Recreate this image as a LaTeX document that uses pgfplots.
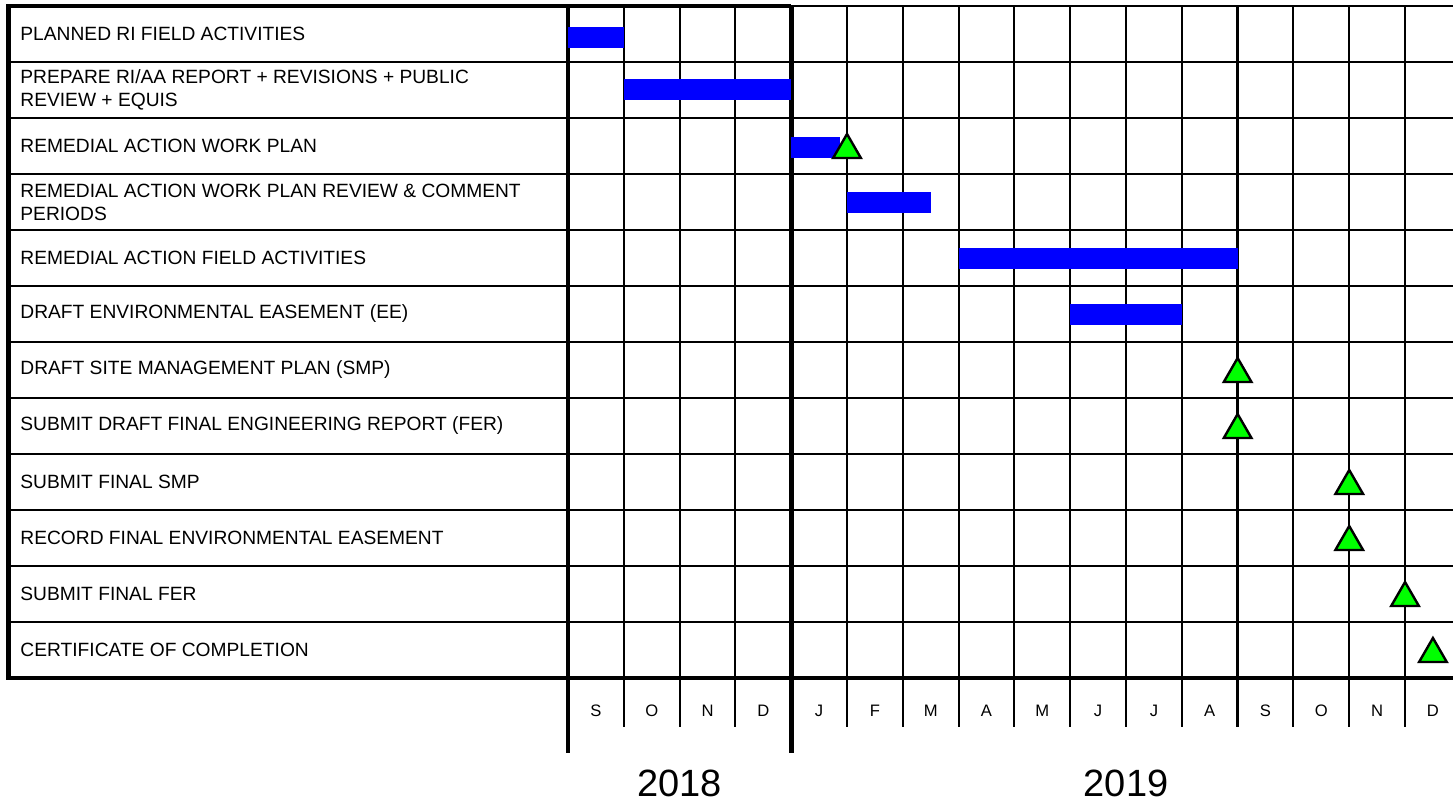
\documentclass[border=0pt]{standalone}
\usepackage{pgfplots}
\pgfplotsset{compat=1.18}
\usepackage{pgfplotstable}
\usepackage{fontspec}
\setmainfont{Liberation Sans}
\definecolor{barblue}{RGB}{0,0,255}
\definecolor{msgreen}{RGB}{0,255,0}

% task bars: start / end (months from Sep 2018), row
\pgfplotstableread{
x y
0 1.06
1 1.06
nan nan
1 2
4 2
nan nan
4 3.03
4.87 3.03
nan nan
5 4
6.5 4
nan nan
7 5
12 5
nan nan
9 6
11 6
}\bars

% milestones
\pgfplotstableread{
x y
5 3
12 7
12 8
14 9
14 10
15 11
15.5 12
}\miles

\begin{document}
\begin{tikzpicture}
\begin{axis}[name=ax,
  width=726.5pt, height=402pt, scale only axis,
  xmin=-10.179, xmax=15.860, ymin=0.393, ymax=14.75,
  y dir=reverse, axis lines=none, xtick=\empty, ytick=\empty,
  clip=false, unbounded coords=jump]
% row lines
\pgfplotsinvokeforeach{1.5,2.5,3.5,4.5,5.5,6.5,7.5,8.5,9.5,10.5,11.5}{
  \draw[line width=1pt] (axis cs:-10.027,#1) -- (axis cs:15.86,#1);
}
% thin month lines
\pgfplotsinvokeforeach{1,2,3,5,6,7,8,9,10,11,13,14}{
  \draw[line width=1pt] (axis cs:#1,0.5) -- (axis cs:#1,13.375);
}
\pgfplotsinvokeforeach{12,15}{
  \draw[line width=1.2pt] (axis cs:#1,0.5) -- (axis cs:#1,13.375);
}
\draw[line width=1pt] (axis cs:4,0.5) -- (axis cs:15.86,0.5);
% thick lines
\draw[line width=2.4pt] (axis cs:0,0.5) -- (axis cs:0,13.84);
\draw[line width=2.4pt] (axis cs:4,0.5) -- (axis cs:4,13.84);
\draw[line width=2.4pt, line join=miter] (axis cs:4,0.5) -- (axis cs:-10.027,0.5) -- (axis cs:-10.027,12.5) -- (axis cs:15.86,12.5);
% bars
\addplot[barblue, line width=10.5pt, line cap=butt, mark=none] table[x=x,y=y] {\bars};
% milestones
\addplot[only marks, mark=triangle*, mark size=8pt,
  mark options={fill=msgreen, draw=black, line width=1.2pt, yshift=-2pt}] table[x=x,y=y] {\miles};
% task labels
\pgfplotsforeachungrouped \k/\t in {
  1/{PLANNED RI FIELD ACTIVITIES},
  2/{PREPARE RI/AA REPORT + REVISIONS + PUBLIC\\REVIEW + EQUIS},
  3/{REMEDIAL ACTION WORK PLAN},
  4/{REMEDIAL ACTION WORK PLAN REVIEW \& COMMENT\\PERIODS},
  5/{REMEDIAL ACTION FIELD ACTIVITIES},
  6/{DRAFT ENVIRONMENTAL EASEMENT (EE)},
  7/{DRAFT SITE MANAGEMENT PLAN (SMP)},
  8/{SUBMIT DRAFT FINAL ENGINEERING REPORT (FER)},
  9/{SUBMIT FINAL SMP},
  10/{RECORD FINAL ENVIRONMENTAL EASEMENT},
  11/{SUBMIT FINAL FER},
  12/{CERTIFICATE OF COMPLETION}}{
  \edef\tmp{\noexpand\node[anchor=west, align=left, inner sep=0pt,
    font=\noexpand\fontsize{9.6}{11.4}\noexpand\selectfont]
    at (axis cs:-9.82,\k) {\unexpanded\expandafter{\t}};}
  \tmp
}
% month letters
\pgfplotsforeachungrouped \m/\l in {0/S,1/O,2/N,3/D,4/J,5/F,6/M,7/A,8/M,9/J,10/J,11/A,12/S,13/O,14/N,15/D}{
  \edef\tmp{\noexpand\node[font=\noexpand\fontsize{8.3}{10}\noexpand\selectfont, inner sep=0pt] at (axis cs:\m.5,13.09) {\l};}
  \tmp
}
\node[font=\fontsize{19}{22}\selectfont, inner sep=0pt] at (axis cs:2,14.375) {2018};
\node[font=\fontsize{19}{22}\selectfont, inner sep=0pt] at (axis cs:10,14.375) {2019};
\end{axis}
\pgfresetboundingbox
\useasboundingbox (ax.south west) rectangle (ax.north east);
\end{tikzpicture}
\end{document}
